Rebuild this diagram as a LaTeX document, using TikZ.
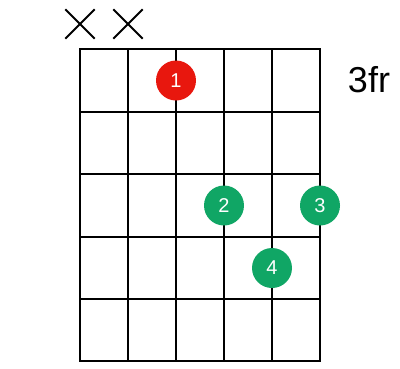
\documentclass[tikz,border=0pt]{standalone}
\usepackage{fontspec}
\setmainfont{Liberation Sans}
\definecolor{dedoRojo}{HTML}{E8170E}
\definecolor{dedoVerde}{HTML}{10A665}

\newcommand{\muda}[1]{%
  \begin{scope}[shift={(#1)}]
    \draw (-14,-14) -- (14,14);
    \draw (-14,14) -- (14,-14);
  \end{scope}}

\begin{document}
\begin{tikzpicture}[x=1pt, y=-1pt, line width=2pt, line cap=rect,
    dedo/.style={circle, fill=dedoVerde, text=white, minimum size=40pt, inner sep=0pt, font=\fontsize{20}{20}\selectfont}]
  \useasboundingbox (0,0) rectangle (400,368);
  % cuerdas y trastes
  \foreach \x in {80,128,176,224,272,320} \draw (\x,49) -- (\x,361);
  \foreach \y in {49,111.5,174,236.5,299,361} \draw (80,\y) -- (320,\y);
  \muda{80,24}
  \muda{128,24}
  \node[dedo, fill=dedoRojo] (d1) at (176,80.5) {1};
  \node[dedo] (d2) at (224,205.5) {2};
  \node[dedo] (d3) at (320,205.5) {3};
  \node[dedo] (d4) at (272,268) {4};
  \node[font=\fontsize{36}{36}\selectfont] (traste) at (369,80) {3fr};
\end{tikzpicture}
\end{document}
